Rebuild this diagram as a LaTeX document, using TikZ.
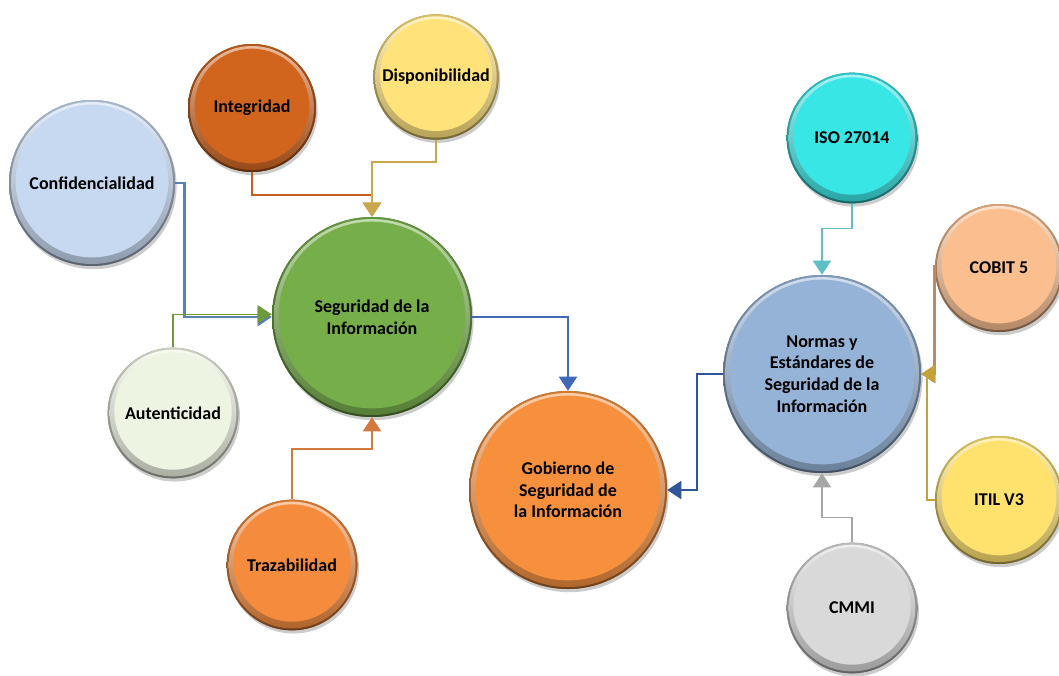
\documentclass[tikz,border=0pt]{standalone}
\usepackage{fontspec}
\setmainfont{Carlito}
\usetikzlibrary{arrows.meta,shadows,calc}
\definecolor{cConf}{HTML}{C6D9F1}
\definecolor{cInteg}{HTML}{D2651E}
\definecolor{cDisp}{HTML}{FFE27A}
\definecolor{cSeg}{HTML}{76AF4A}
\definecolor{cAut}{HTML}{EEF4E2}
\definecolor{cTraz}{HTML}{F58B3C}
\definecolor{cGob}{HTML}{F7903D}
\definecolor{cNorm}{HTML}{95B3D7}
\definecolor{cIso}{HTML}{38E6E6}
\definecolor{cCobit}{HTML}{FBBE8E}
\definecolor{cItil}{HTML}{FFE26E}
\definecolor{cCmmi}{HTML}{D9D9D9}
\definecolor{lConf}{HTML}{5B80B2}
\definecolor{lAut}{HTML}{6E9A3E}
\definecolor{lInteg}{HTML}{C45E1F}
\definecolor{lDisp}{HTML}{C9A84C}
\definecolor{lTraz}{HTML}{D27A3E}
\definecolor{lBlue}{HTML}{4169B8}
\definecolor{lBlueB}{HTML}{2F5597}
\definecolor{lIso}{HTML}{5BBFC4}
\definecolor{lCmmi}{HTML}{A6A6A6}
\definecolor{lCobit}{HTML}{C08A5E}
\definecolor{lItil}{HTML}{C4A23A}
\tikzset{
  bub/.style 2 args={circle, inner sep=0pt, minimum size=#1, align=center,
    font=\bfseries\fontsize{13.5}{16.3}\selectfont, text=black,
    fill=#2!60!black,
    drop shadow={shadow xshift=1.2pt, shadow yshift=-2.4pt, opacity=0.2, fill=black},
    path picture={
      \shade[top color=#2!85!black, bottom color=#2!45!black]
        (path picture bounding box.center) circle[radius={#1/2}];
      \shade[top color=#2!45!white, bottom color=#2!72!black]
        (path picture bounding box.center) circle[radius={#1/2-1.5pt}];
      \fill[#2] ($(path picture bounding box.center)+(0,1.5pt)$) circle[radius={#1/2-5pt}];
    }},
  conn/.style={-{Triangle[width=13.5pt,length=10.5pt]}, line join=miter}
}
\begin{document}
\begin{tikzpicture}[x=0.75pt,y=-0.75pt]
\useasboundingbox[fill=white] (0,0) rectangle (1059,675);
\node[bub={124.5pt}{cConf}] (conf) at (92,183) {Confidencialidad};
\node[bub={96pt}{cInteg}] (integ) at (252,108) {Integridad};
\node[bub={94pt}{cDisp}] (disp) at (436,77) {Disponibilidad};
\node[bub={150pt}{cSeg}] (seg) at (372,317) {Seguridad de la\\Información};
\node[bub={98pt}{cAut}] (aut) at (173,413) {Autenticidad};
\node[bub={98pt}{cTraz}] (traz) at (292,565) {Trazabilidad};
\node[bub={148.5pt}{cGob}] (gob) at (568,490) {Gobierno de\\Seguridad de\\la Información};
\node[bub={148.5pt}{cNorm}] (norm) at (822,374) {Normas y\\Estándares de\\Seguridad de la\\Información};
\node[bub={98pt}{cIso}] (iso) at (852,138) {ISO 27014};
\node[bub={96pt}{cCobit}] (cobit) at (999,268) {COBIT 5};
\node[bub={96pt}{cItil}] (itil) at (999,500) {ITIL V3};
\node[bub={98pt}{cCmmi}] (cmmi) at (852,608) {CMMI};

\draw[conn, draw=lConf, line width=2.2pt] (conf.east) -- ++(9,0) |- (seg.west);
\draw[conn, draw=lAut, line width=1.2pt] (aut.north) |- ([yshift=2pt]seg.west);
\draw[conn, draw=lInteg, line width=1.8pt] (integ.south) -- ++(0,23) -| (seg.north);
\draw[conn, draw=lDisp, line width=1.2pt] (disp.south) -- ++(0,22) -| (seg.north);
\draw[conn, draw=lTraz, line width=1.5pt] (traz.north) -- ++(0,-50) -| (seg.south);
\draw[conn, draw=lBlue, line width=1.5pt] (seg.east) -| (gob.north);
\draw[conn, draw=lBlueB, line width=1.5pt] (norm.west) -- ++(-26,0) |- (gob.east);
\draw[conn, draw=lIso, line width=1.2pt] (iso.south) -- ++(0,25) -| (norm.north);
\draw[conn, draw=lCmmi, line width=1.2pt] (cmmi.north) -- ++(0,-25) -| (norm.south);
\draw[conn, draw=lCobit, line width=2.2pt] ([yshift=2pt]cobit.west) |- (norm.east);
\draw[conn, draw=lItil, line width=1.2pt] (itil.west) -- ++(-8,0) |- (norm.east);
\end{tikzpicture}
\end{document}
